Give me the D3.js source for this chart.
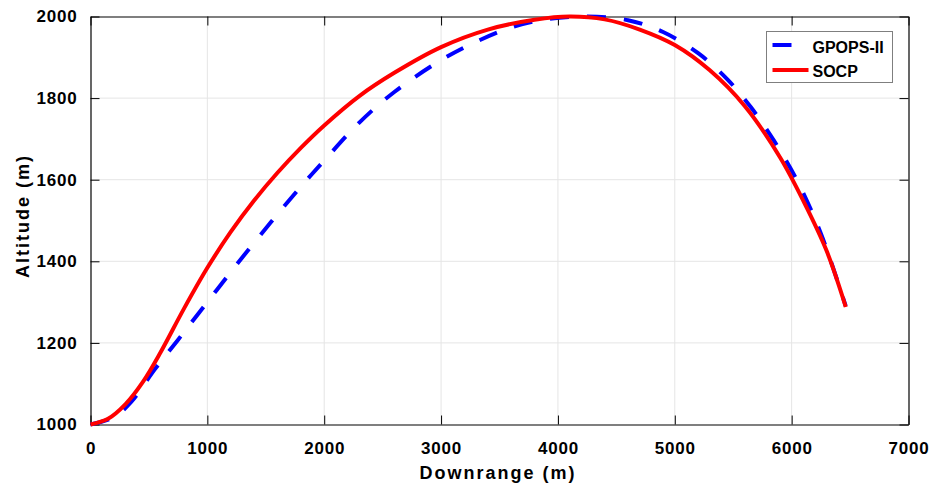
<!DOCTYPE html>
<html>
<head>
<meta charset="utf-8">
<script src="https://cdn.jsdelivr.net/npm/d3@7"></script>
<style>
  body { margin: 0; background: #fff; }
  text { font-family: "Liberation Sans", Arial, sans-serif; font-weight: bold; }
</style>
</head>
<body>
<script>
// values
var socpX = [0, 150, 300, 450, 600, 800, 1000, 1200, 1400, 1600, 1800, 2000, 2300, 2600, 3000, 3400, 3800, 4100, 4400, 4700, 5000, 5300, 5600, 5900, 6100, 6300, 6463];
var socpY = [1000, 1014, 1050, 1105, 1177, 1284, 1384, 1472, 1549, 1617, 1678, 1733, 1805, 1862, 1925, 1968, 1992, 2000, 1993, 1968, 1930, 1868, 1780, 1655, 1548, 1425, 1288];

var gpopsX = [0, 200, 350, 550, 750, 1000, 1250, 1550, 1800, 2000, 2300, 2600, 3000, 3300, 3600, 3900, 4250, 4600, 4900, 5200, 5450, 5650, 5850, 6050, 6250, 6463];
var gpopsY = [1000, 1018, 1056, 1135, 1208, 1300, 1392, 1498, 1583, 1647, 1740, 1815, 1893, 1938, 1973, 1993, 2000, 1991, 1962, 1910, 1846, 1778, 1695, 1596, 1468, 1290];

var xTicks = [0, 1000, 2000, 3000, 4000, 5000, 6000, 7000];
var yTicks = [1000, 1200, 1400, 1600, 1800, 2000];

var seriesNames = ["GPOPS-II", "SOCP"];

var margin = { top: 16.5, right: 37.5, bottom: 66.5, left: 90.5 },
    width = 946 - margin.left - margin.right,
    height = 491 - margin.top - margin.bottom;

var svg = d3.select("body").append("svg")
    .attr("width", 946)
    .attr("height", 491);

var g = svg.append("g")
    .attr("transform", "translate(" + margin.left + "," + margin.top + ")");

var xScale = d3.scaleLinear().domain([0, 7000]).range([0, width]);
var yScale = d3.scaleLinear().domain([1000, 2000]).range([height, 0]);

// grid
g.append("g").selectAll("line")
    .data(xTicks.slice(1, -1))
    .enter().append("line")
    .attr("x1", function (d) { return xScale(d); })
    .attr("x2", function (d) { return xScale(d); })
    .attr("y1", 0).attr("y2", height)
    .attr("stroke", "#e5e5e5");

g.append("g").selectAll("line")
    .data(yTicks.slice(1, -1))
    .enter().append("line")
    .attr("y1", function (d) { return yScale(d); })
    .attr("y2", function (d) { return yScale(d); })
    .attr("x1", 0).attr("x2", width)
    .attr("stroke", "#e5e5e5");

// axes, ticks pointing inward like matlab
var fmt = d3.format("d");
var xAxis = d3.axisBottom(xScale).tickValues(xTicks).tickFormat(fmt).tickSizeInner(-9).tickSizeOuter(0).tickPadding(17);
var yAxis = d3.axisLeft(yScale).tickValues(yTicks).tickFormat(fmt).tickSizeInner(-9).tickSizeOuter(0).tickPadding(17);
var xTop = d3.axisTop(xScale).tickValues(xTicks).tickSizeInner(-9).tickSizeOuter(0).tickFormat("");
var yRight = d3.axisRight(yScale).tickValues(yTicks).tickSizeInner(-9).tickSizeOuter(0).tickFormat("");

var gx = g.append("g").attr("transform", "translate(0," + height + ")").call(xAxis);
var gy = g.append("g").call(yAxis);
g.append("g").call(xTop);
g.append("g").attr("transform", "translate(" + width + ",0)").call(yRight);

g.selectAll(".domain").attr("stroke", "#000").attr("stroke-width", 1.2);
g.selectAll(".tick line").attr("stroke", "#000");

gx.selectAll("text")
    .style("font-size", "17px").style("letter-spacing", "0.8px")
    .attr("fill", "#000").attr("dy", "0.71em");
gy.selectAll("text")
    .style("font-size", "17px").style("letter-spacing", "0.8px")
    .attr("fill", "#000").attr("dx", "4px");

// lines
var lineGen = d3.line()
    .x(function (d) { return xScale(d[0]); })
    .y(function (d) { return yScale(d[1]); })
    .curve(d3.curveCatmullRom.alpha(0.5));

var gpops = gpopsX.map(function (x, i) { return [x, gpopsY[i]]; });
var socp = socpX.map(function (x, i) { return [x, socpY[i]]; });

g.append("path")
    .datum(gpops)
    .attr("d", lineGen)
    .attr("fill", "none")
    .attr("stroke", "#0000ff")
    .attr("stroke-width", 4)
    .attr("stroke-dasharray", "19,18");

g.append("path")
    .datum(socp)
    .attr("d", lineGen)
    .attr("fill", "none")
    .attr("stroke", "#ff0000")
    .attr("stroke-width", 4);

// legend
var legend = svg.append("g").attr("transform", "translate(766.5,31.5)");
legend.append("rect")
    .attr("width", 126).attr("height", 51)
    .attr("fill", "#fff").attr("stroke", "#7f7f7f").attr("stroke-width", 1);
legend.append("line")
    .attr("x1", 6).attr("x2", 42).attr("y1", 13.5).attr("y2", 13.5)
    .attr("stroke", "#0000ff").attr("stroke-width", 4).attr("stroke-dasharray", "19,18");
legend.append("line")
    .attr("x1", 6).attr("x2", 42).attr("y1", 38.5).attr("y2", 38.5)
    .attr("stroke", "#ff0000").attr("stroke-width", 4);
legend.selectAll("text.lab")
    .data(seriesNames)
    .enter().append("text")
    .attr("class", "lab")
    .attr("x", 46)
    .attr("y", function (d, i) { return 21 + i * 24; })
    .style("font-size", "16px")
    .text(function (d) { return d; });

// axis labels
svg.append("text")
    .attr("x", 498).attr("y", 479)
    .attr("text-anchor", "middle")
    .style("font-size", "18px").style("letter-spacing", "2px")
    .text("Downrange (m)");

svg.append("text")
    .attr("transform", "translate(29,216) rotate(-90)")
    .attr("text-anchor", "middle")
    .style("font-size", "18px").style("letter-spacing", "2px")
    .text("Altitude (m)");
</script>
</body>
</html>
